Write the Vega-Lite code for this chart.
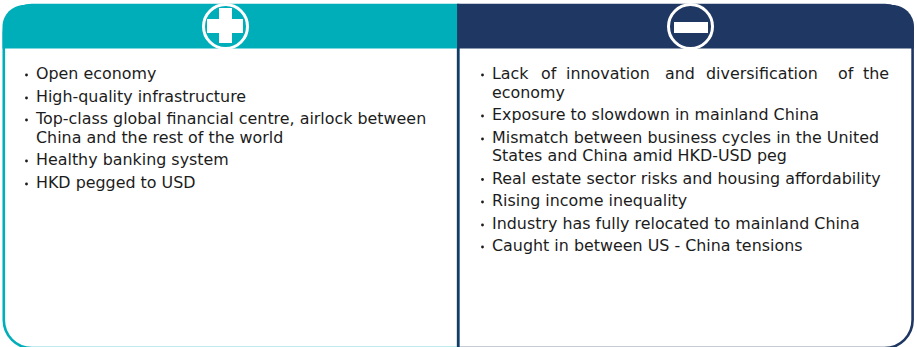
{
"$schema":"https://vega.github.io/schema/vega-lite/v6.json",
"width":917,"height":347,"padding":0,
"autosize":{"type":"fit","contains":"padding"},
"background":"white",
"config":{"view":{"stroke":null}},
"datasets":{
"panels":[
{"panel":"plus","x":3.8,"x2":458.2,"y":5,"y2":348.1,"hx":2.5,"hx2":457.3,"hy":5,"hy2":48.5,"cx":225.5,"cy":26.5},
{"panel":"minus","x":458.2,"x2":912.6,"y":5,"y2":348.1,"hx":457.3,"hx2":914,"hy":5,"hy2":48.5,"cx":690.5,"cy":26.5}
],
"glyph":[
{"part":"plus-h","x":207,"x2":243,"y":19,"y2":33},
{"part":"plus-v","x":219,"x2":232,"y":8,"y2":43},
{"part":"minus","x":674,"x2":708,"y":22,"y2":33}
],
"bullets":[
{"x":36,"y":75},{"x":36,"y":98},{"x":36,"y":120},{"x":36,"y":161},{"x":36,"y":184},
{"x":492,"y":75},{"x":492,"y":116},{"x":492,"y":139},{"x":492,"y":179.5},{"x":492,"y":202},{"x":492,"y":225},{"x":492,"y":247}
],
"lines":[
{"panel":"plus","x":36,"y":74,"text":"Open economy"},
{"panel":"plus","x":36,"y":97,"text":"High-quality infrastructure"},
{"panel":"plus","x":36,"y":119,"text":"Top-class global financial centre, airlock between"},
{"panel":"plus","x":36,"y":137.5,"text":"China and the rest of the world"},
{"panel":"plus","x":36,"y":160,"text":"Healthy banking system"},
{"panel":"plus","x":36,"y":183,"text":"HKD pegged to USD"},
{"panel":"minus","x":492,"y":74,"text":"Lack"},
{"panel":"minus","x":541,"y":74,"text":"of"},
{"panel":"minus","x":566,"y":74,"text":"innovation"},
{"panel":"minus","x":665,"y":74,"text":"and"},
{"panel":"minus","x":706,"y":74,"text":"diversification"},
{"panel":"minus","x":838,"y":74,"text":"of"},
{"panel":"minus","x":863,"y":74,"text":"the"},
{"panel":"minus","x":492,"y":93,"text":"economy"},
{"panel":"minus","x":492,"y":115,"text":"Exposure to slowdown in mainland China"},
{"panel":"minus","x":492,"y":138,"text":"Mismatch between business cycles in the United"},
{"panel":"minus","x":492,"y":156,"text":"States and China amid HKD-USD peg"},
{"panel":"minus","x":492,"y":178.5,"text":"Real estate sector risks and housing affordability"},
{"panel":"minus","x":492,"y":201,"text":"Rising income inequality"},
{"panel":"minus","x":492,"y":224,"text":"Industry has fully relocated to mainland China"},
{"panel":"minus","x":492,"y":246,"text":"Caught in between US - China tensions"}
]
},
"layer":[
{"data":{"name":"panels"},"transform":[{"filter":"datum.panel=='plus'"}],
"mark":{"type":"rect","clip":true,"fillOpacity":0,"strokeWidth":2.6,"cornerRadiusBottomLeft":28,"cornerRadiusTopLeft":28},
"encoding":{"x":{"field":"x","type":"quantitative","scale":{"domain":[0,917],"nice":false,"zero":false},"axis":null},"x2":{"field":"x2"},"y":{"field":"y","type":"quantitative","scale":{"domain":[347,0],"nice":false,"zero":false},"axis":null},"y2":{"field":"y2"},
"stroke":{"field":"panel","type":"nominal","scale":{"domain":["plus","minus"],"range":["#00AEBA","#1F3763"]},"legend":null}}},
{"data":{"name":"panels"},"transform":[{"filter":"datum.panel=='minus'"}],
"mark":{"type":"rect","clip":true,"fillOpacity":0,"strokeWidth":2.6,"cornerRadiusBottomRight":28,"cornerRadiusTopRight":28},
"encoding":{"x":{"field":"x","type":"quantitative","axis":null},"x2":{"field":"x2"},"y":{"field":"y","type":"quantitative","axis":null},"y2":{"field":"y2"},
"stroke":{"field":"panel","type":"nominal","legend":null}}},
{"data":{"name":"panels"},"transform":[{"filter":"datum.panel=='plus'"}],
"mark":{"type":"rect","clip":true,"cornerRadiusTopLeft":28},
"encoding":{"x":{"field":"hx","type":"quantitative","axis":null},"x2":{"field":"hx2"},"y":{"field":"hy","type":"quantitative","axis":null},"y2":{"field":"hy2"},
"fill":{"field":"panel","type":"nominal","scale":{"domain":["plus","minus"],"range":["#00AEBA","#1F3763"]},"legend":null}}},
{"data":{"name":"panels"},"transform":[{"filter":"datum.panel=='minus'"}],
"mark":{"type":"rect","clip":true,"cornerRadiusTopRight":28},
"encoding":{"x":{"field":"hx","type":"quantitative","axis":null},"x2":{"field":"hx2"},"y":{"field":"hy","type":"quantitative","axis":null},"y2":{"field":"hy2"},
"fill":{"field":"panel","type":"nominal","legend":null}}},
{"data":{"name":"panels"},
"mark":{"type":"point","clip":true,"shape":"circle","filled":false,"size":1936,"stroke":"white","strokeWidth":3,"opacity":1},
"encoding":{"x":{"field":"cx","type":"quantitative","axis":null},"y":{"field":"cy","type":"quantitative","axis":null}}},
{"data":{"name":"glyph"},
"mark":{"type":"rect","clip":true,"fill":"white"},
"encoding":{"x":{"field":"x","type":"quantitative","axis":null},"x2":{"field":"x2"},"y":{"field":"y","type":"quantitative","axis":null},"y2":{"field":"y2"}}},
{"data":{"name":"bullets"},
"mark":{"type":"point","clip":true,"shape":"circle","filled":true,"size":8,"color":"#1c1c1c","opacity":1,"xOffset":-9.5},
"encoding":{"x":{"field":"x","type":"quantitative","axis":null},"y":{"field":"y","type":"quantitative","axis":null}}},
{"data":{"name":"lines"},
"mark":{"type":"text","clip":true,"align":"left","baseline":"middle","font":"DejaVu Sans","fontSize":15.9,"color":"#1c1c1c"},
"encoding":{"x":{"field":"x","type":"quantitative","axis":null},"y":{"field":"y","type":"quantitative","axis":null},"text":{"field":"text","type":"nominal"}}}
]
}
